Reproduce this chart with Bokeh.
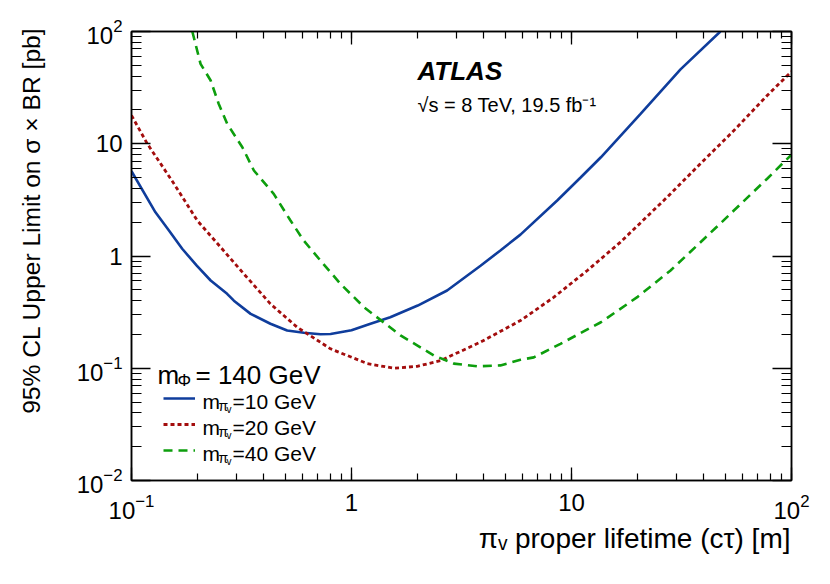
from bokeh.plotting import figure
from bokeh.models import (Range1d, LogAxis, LogTicker, LogTickFormatter, Legend,
                          LegendItem, Label, Title, CustomJSTickFormatter)
from bokeh.embed import file_html
from bokeh.resources import INLINE

# ---------------- data ----------------
ctau_10 = [0.10, 0.1285, 0.148, 0.170, 0.198, 0.229, 0.272, 0.292, 0.348, 0.428,
           0.510, 0.607, 0.722, 0.803, 1.0, 1.22, 1.5, 2.0, 2.72, 3.86,
           4.75, 5.86, 8.61, 11.0, 13.6, 20.6, 31.3, 47.5]
limit_10 = [5.7, 2.45, 1.69, 1.16, 0.82, 0.605, 0.46, 0.40, 0.305, 0.249,
            0.217, 0.207, 0.201, 0.202, 0.218, 0.249, 0.285, 0.362, 0.493, 0.82,
            1.12, 1.55, 3.12, 5.0, 7.58, 18.5, 46.0, 100.0]

ctau_20 = [0.10, 0.118, 0.156, 0.199, 0.254, 0.324, 0.428, 0.566, 0.803, 1.18,
           1.56, 1.99, 2.54, 3.86, 5.86, 8.32, 11.8, 16.7, 27.2, 38.5,
           54.7, 77.5, 100.0]
limit_20 = [17.9, 10.0, 4.40, 2.07, 1.20, 0.693, 0.375, 0.232, 0.149, 0.110,
            0.100, 0.104, 0.117, 0.171, 0.266, 0.430, 0.743, 1.33, 3.34, 6.63,
            13.1, 26.9, 44.0]

ctau_40 = [0.189, 0.206, 0.229, 0.249, 0.272, 0.319, 0.360, 0.443, 0.528, 0.607,
           0.722, 0.891, 1.14, 1.67, 2.37, 2.92, 3.72, 4.75, 5.86, 6.74,
           8.91, 13.6, 19.9, 28.2, 44.4, 54.7, 77.5, 100.0]
limit_40 = [100.0, 51.5, 36.6, 22.7, 15.1, 9.31, 5.78, 3.58, 2.07, 1.37,
            0.912, 0.565, 0.350, 0.196, 0.130, 0.110, 0.104, 0.106, 0.119, 0.125,
            0.165, 0.257, 0.430, 0.743, 1.72, 2.54, 4.88, 8.0]

x_label = "πᵥ proper lifetime (cτ) [m]"
y_label = "95% CL Upper Limit on σ × BR [pb]"
legend_labels = ["=10 GeV", "=20 GeV", "=40 GeV"]

# ---------------- styling ----------------
FONT = "Liberation Sans"
BLUE = "#0f3d9c"
RED = "#a30d0d"
GREEN = "#0d9e0d"

W, H = 814, 568
FL, FR, FT, FB = 131, 23, 31, 88   # borders around the frame (figure px)

p = figure(width=W, height=H, x_axis_type="log", y_axis_type="log",
           x_range=Range1d(0.1, 100), y_range=Range1d(0.01, 100),
           output_backend="svg", toolbar_location=None,
           min_border_left=FL, min_border_right=FR,
           min_border_top=FT, min_border_bottom=FB)
p.grid.visible = False
p.outline_line_color = "black"
p.outline_line_width = 1.5
p.background_fill_color = "white"
p.border_fill_color = "white"


def style_axis(ax, major_len, minor_len):
    ax.ticker = LogTicker(num_minor_ticks=10)
    ax.major_tick_in = major_len
    ax.major_tick_out = 0
    ax.minor_tick_in = minor_len
    ax.minor_tick_out = 0
    ax.axis_line_color = "black"
    ax.axis_line_width = 1.5
    ax.major_tick_line_color = "black"
    ax.major_tick_line_width = 1.3
    ax.minor_tick_line_color = "black"
    ax.minor_tick_line_width = 1.2


def blank_labels(ax):
    ax.formatter = CustomJSTickFormatter(code="return ''")
    ax.major_label_text_font_size = "0px"
    ax.major_label_standoff = 0


xa = p.xaxis[0]
ya = p.yaxis[0]
style_axis(xa, 13, 7)
style_axis(ya, 19, 10)
for ax in (xa, ya):
    ax.formatter = LogTickFormatter()
    ax.major_label_overrides = {1: "1", 10: "10"}
    ax.major_label_text_font = FONT
    ax.major_label_text_font_size = "24px"
    ax.major_label_text_color = "black"
xa.major_label_standoff = 13
ya.major_label_standoff = 9

# mirror axes (ticks only)
top = LogAxis()
right = LogAxis()
style_axis(top, 13, 7)
style_axis(right, 19, 10)
blank_labels(top)
blank_labels(right)
p.add_layout(top, "above")
p.add_layout(right, "right")

# axis titles, aligned to the upper/right ends of the axes as in the reference
xt = Title(text=x_label, align="right", vertical_align="bottom", standoff=-2, offset=1,
           text_font=FONT, text_font_size="28px", text_font_style="normal",
           text_color="black")
p.add_layout(xt, "below")

spacer = LogAxis(major_tick_out=28, major_tick_in=0, minor_tick_out=0, minor_tick_in=0,
                 major_tick_line_color=None, minor_tick_line_color=None,
                 axis_line_color=None)
blank_labels(spacer)
p.add_layout(spacer, "left")
yt = Title(text=y_label, align="right", vertical_align="middle", standoff=0, offset=-4,
           text_font=FONT, text_font_size="24.6px", text_font_style="normal",
           text_color="black")
p.add_layout(yt, "left")

# ---------------- curves ----------------
r10 = p.line(ctau_10, limit_10, line_color=BLUE, line_width=2.6)
r20 = p.line(ctau_20, limit_20, line_color=RED, line_width=2.8, line_dash="4 3")
r40 = p.line(ctau_40, limit_40, line_color=GREEN, line_width=2.6, line_dash="9 6")

# ---------------- legend (samples) ----------------
legend = Legend(items=[LegendItem(label="", renderers=[r10]),
                       LegendItem(label="", renderers=[r20]),
                       LegendItem(label="", renderers=[r40])],
                location=(32, 17), padding=0, margin=0, spacing=0,
                glyph_width=32, glyph_height=26, label_height=26, label_width=0,
                label_standoff=0, label_text_font_size="8px",
                border_line_color=None, background_fill_alpha=0)
p.add_layout(legend)

# ---------------- texts (positions in screenshot px, converted to frame px) ----
SX0, SYB = 131, 480   # frame left / bottom in the 830x584 screenshot


def put(text, px, py, size, style="normal"):
    p.add_layout(Label(x=px - SX0, y=SYB - py, x_units="screen", y_units="screen",
                       text=text, text_font=FONT, text_font_size=f"{size}px",
                       text_font_style=style, text_color="black",
                       text_align="left", text_baseline="alphabetic"))


put("ATLAS", 417, 70, 26, "bold italic")
put("√s = 8 TeV, 19.5 fb⁻¹", 417, 104, 20)

put("m", 157, 374, 26)
put("Φ", 177, 380, 17)
put("= 140 GeV", 195, 374, 26)

for i, t in enumerate(legend_labels):
    b = 401 + 26 * i
    put("m", 202, b, 21)
    put("π", 218, b + 4, 14)
    put("v", 226, b + 8, 10)
    put(t, 232, b, 21)

open("out.html", "w").write(file_html(p, INLINE))
